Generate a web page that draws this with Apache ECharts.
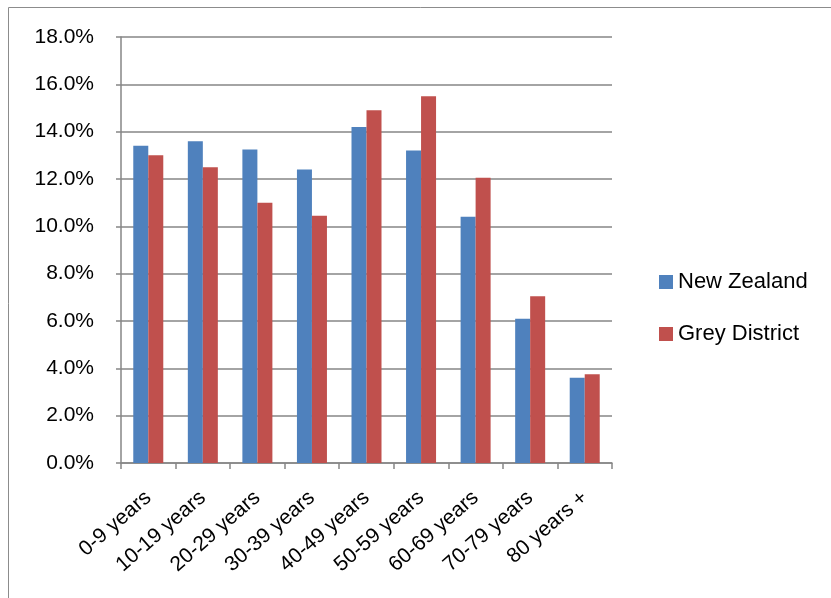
<!DOCTYPE html>
<html>
<head>
<meta charset="utf-8">
<script src="https://cdn.jsdelivr.net/npm/echarts@6/dist/echarts.min.js"></script>
<style>
  html, body { margin: 0; padding: 0; background: #fff; }
  #chart { width: 831px; height: 598px; }
</style>
</head>
<body>
<div id="chart"></div>
<script>
// Age groups and population shares (%)
const categories = ['0-9 years', '10-19 years', '20-29 years', '30-39 years', '40-49 years',
                    '50-59 years', '60-69 years', '70-79 years', '80 years +'];
const newZealand = [13.4, 13.6, 13.25, 12.4, 14.2, 13.2, 10.4, 6.1, 3.6];
const greyDistrict = [13.0, 12.5, 11.0, 10.45, 14.9, 15.5, 12.05, 7.05, 3.75];
const seriesNames = ['New Zealand', 'Grey District'];

const labelFont = '"Liberation Sans", Arial, sans-serif';
const axisGrey = '#868686';

const chart = echarts.init(document.getElementById('chart'), null, { renderer: 'canvas' });
chart.setOption({
  animation: false,
  color: ['#4F81BD', '#C0504D'],
  graphic: [{
    type: 'rect',
    shape: { x: 8.5, y: 7.5, width: 900, height: 700 },
    style: { fill: 'none', stroke: '#8c8c8c', lineWidth: 1 },
    silent: true
  }],
  grid: { left: 121, right: 219, top: 37, bottom: 135 },
  legend: {
    orient: 'vertical',
    left: 654,
    top: 266,
    itemWidth: 14,
    itemHeight: 14,
    itemGap: 30,
    icon: 'rect',
    textStyle: { fontFamily: labelFont, fontSize: 22, color: '#000' },
    data: seriesNames
  },
  xAxis: {
    type: 'category',
    data: categories,
    axisLine: { lineStyle: { color: axisGrey, width: 1.5 } },
    axisTick: { show: true, length: 6, alignWithLabel: false, lineStyle: { color: axisGrey, width: 1.5 } },
    axisLabel: {
      rotate: 41,
      interval: 0,
      margin: 32,
      fontFamily: labelFont,
      fontSize: 21,
      color: '#000'
    }
  },
  yAxis: {
    type: 'value',
    min: 0,
    max: 18,
    interval: 2,
    axisLine: { show: true, lineStyle: { color: axisGrey, width: 1.5 } },
    axisTick: { show: true, length: 5, lineStyle: { color: axisGrey, width: 1.5 } },
    splitLine: { lineStyle: { color: axisGrey, width: 1.5 } },
    axisLabel: {
      margin: 27,
      fontFamily: labelFont,
      fontSize: 21,
      color: '#000',
      formatter: v => v.toFixed(1) + '%'
    }
  },
  series: [
    { name: seriesNames[0], type: 'bar', data: newZealand, barGap: '0%', barCategoryGap: '45%' },
    { name: seriesNames[1], type: 'bar', data: greyDistrict, barGap: '0%', barCategoryGap: '45%' }
  ]
});
</script>
</body>
</html>
